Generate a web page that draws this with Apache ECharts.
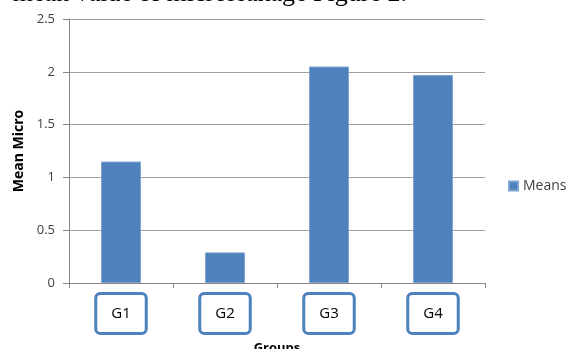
<!DOCTYPE html>
<html>
<head>
<meta charset="utf-8">
<script src="https://cdn.jsdelivr.net/npm/echarts@6/dist/echarts.min.js"></script>
<style>
  html, body { margin: 0; padding: 0; background: #fff; }
  #chart { width: 568px; height: 349px; }
</style>
</head>
<body>
<div id="chart"></div>
<script>
// data
const groups = ['G1', 'G2', 'G3', 'G4'];
const means = [1.15, 0.29, 2.05, 1.97];
const yTicks = [0, 0.5, 1, 1.5, 2, 2.5];

const blue = '#4f81bd';
const chart = echarts.init(document.getElementById('chart'));

chart.setOption({
    animation: false,
    title: {
        text: 'mean value of microleakage Figure 2.',
        right: 156,
        top: -24,
        textStyle: {
            fontFamily: 'Liberation Serif',
            fontWeight: 'normal',
            fontSize: 26,
            color: '#000'
        }
    },
    legend: {
        data: ['Means'],
        left: 503,
        top: 174,
        icon: 'rect',
        itemWidth: 9,
        itemHeight: 9,
        itemGap: 5,
        textStyle: { fontFamily: 'Open Sans', fontSize: 14, color: '#404040' }
    },
    grid: { left: 69, right: 83, top: 19, bottom: 66, containLabel: false, outerBoundsMode: 'none' },
    xAxis: {
        type: 'category',
        data: groups,
        name: 'Groups',
        nameLocation: 'middle',
        nameGap: 59,
        nameTextStyle: { fontFamily: 'Open Sans', fontWeight: 'bold', fontSize: 13, color: '#000' },
        axisLine: { lineStyle: { color: '#868686' } },
        axisTick: { show: true, length: 5, lineStyle: { color: '#868686' } },
        axisLabel: {
            margin: 12,
            fontFamily: 'Open Sans',
            fontSize: 15,
            color: '#000',
            backgroundColor: '#fff',
            borderColor: blue,
            borderWidth: 3,
            borderRadius: 3,
            padding: [11, 14, 11, 14]
        }
    },
    yAxis: {
        type: 'value',
        min: yTicks[0],
        max: yTicks[yTicks.length - 1],
        interval: 0.5,
        name: 'Mean Micro',
        nameLocation: 'middle',
        nameGap: 43,
        nameTextStyle: { fontFamily: 'Open Sans', fontWeight: 'bold', fontSize: 14, color: '#000' },
        axisLine: { show: true, lineStyle: { color: '#868686' } },
        axisTick: { show: true, length: 6, lineStyle: { color: '#868686' } },
        axisLabel: { margin: 14, fontFamily: 'Open Sans', fontSize: 13, color: '#404040' },
        splitLine: { lineStyle: { color: '#a0a0a0', width: 1 } }
    },
    series: [{
        name: 'Means',
        type: 'bar',
        data: means,
        barWidth: 40,
        itemStyle: { color: blue, borderColor: '#7fa3d1', borderWidth: 1 }
    }]
});
</script>
</body>
</html>
